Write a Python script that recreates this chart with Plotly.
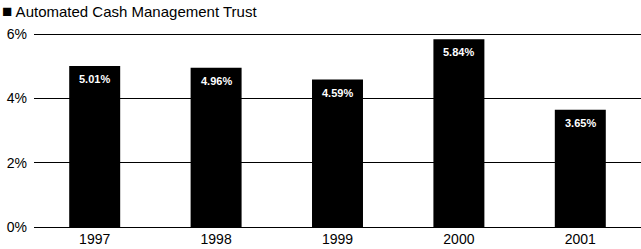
import plotly.graph_objects as go

years = ["1997", "1998", "1999", "2000", "2001"]
rates = [5.01, 4.96, 4.59, 5.84, 3.65]
labels = ["5.01%", "4.96%", "4.59%", "5.84%", "3.65%"]
tick_vals = [0, 2, 4, 6]
tick_text = ["0%", "2%", "4%", "6%"]
title = "Automated Cash Management Trust"

FONT = "Liberation Sans, Arial, sans-serif"

fig = go.Figure()
fig.add_trace(go.Bar(x=years, y=rates, marker=dict(color="black", line=dict(width=0)),
                     hoverinfo="skip"))

# value labels, placed through the category axis index and the y scale
for i, (y, t) in enumerate(zip(rates, labels)):
    fig.add_annotation(x=i, y=y, xref="x", yref="y", text="<b>" + t + "</b>",
                       showarrow=False, yanchor="top", yshift=-5,
                       font=dict(family=FONT, size=11, color="white"))

fig.add_annotation(xref="paper", yref="paper", x=-34/607, y=1 + 31/196, xanchor="left", yanchor="top",
                   text="<span style='font-size:17px'>■</span> " + title, showarrow=False,
                   yshift=0, xshift=0,
                   font=dict(family=FONT, size=15, color="black"))

fig.update_layout(
    width=641, height=249,
    margin=dict(l=34, r=0, t=31, b=22),
    paper_bgcolor="white", plot_bgcolor="white",
    bargap=0.58,
    showlegend=False,
    font=dict(family=FONT, size=14, color="black"),
    xaxis=dict(type="category", range=[-0.5, 4.5], showgrid=False, showline=False,
               zeroline=False, ticks="", ticklabelstandoff=2, tickfont=dict(size=14)),
    yaxis=dict(range=[0, 6.1], tickvals=tick_vals, ticktext=tick_text, showgrid=True,
               gridcolor="black", gridwidth=1, zeroline=True, zerolinecolor="black",
               zerolinewidth=1, showline=False, ticks="", ticklabelstandoff=6,
               tickfont=dict(size=14)),
)
fig.write_html("out.html")
